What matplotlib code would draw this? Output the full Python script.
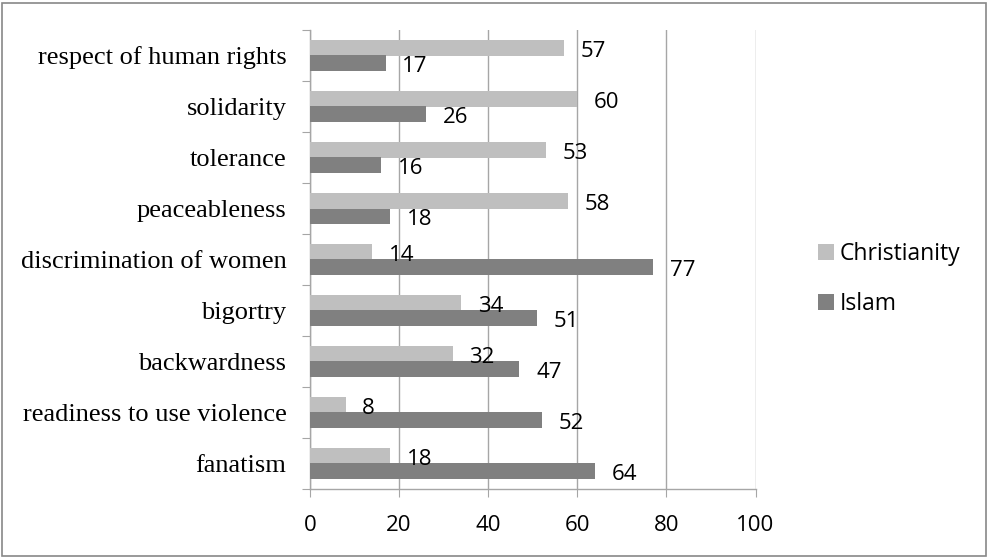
import matplotlib
matplotlib.use("Agg")
import matplotlib.pyplot as plt
from matplotlib.patches import Rectangle
import numpy as np

categories = ["fanatism", "readiness to use violence", "backwardness", "bigortry",
              "discrimination of women", "peaceableness", "tolerance", "solidarity",
              "respect of human rights"]
christianity = [18, 8, 32, 34, 14, 58, 53, 60, 57]
islam = [64, 52, 47, 51, 77, 18, 16, 26, 17]
xticks = [0, 20, 40, 60, 80, 100]

c_chr = "#BFBFBF"
c_isl = "#808080"
grid_c = "#A6A6A6"

fig = plt.figure(figsize=(9.88, 5.57), dpi=100)
ax = fig.add_axes([310/988, 1-489/557, 445.5/988, 459/557])

y = np.arange(len(categories))
h = 0.31
ax.barh(y + h/2, christianity, height=h, color=c_chr, label="Christianity", zorder=3)
ax.barh(y - h/2, islam, height=h, color=c_isl, label="Islam", zorder=3)

numfont = "Open Sans"
for yi, v in zip(y, christianity):
    ax.annotate(str(v), (v, yi + h/2), xytext=(12, -2.5), textcoords="offset points",
                ha="left", va="center", fontsize=16, family=numfont)
for yi, v in zip(y, islam):
    ax.annotate(str(v), (v, yi - h/2), xytext=(12, -2.5), textcoords="offset points",
                ha="left", va="center", fontsize=16, family=numfont)

ax.set_xlim(0, 100)
ax.set_ylim(-0.5, len(categories) - 0.5)
ax.set_xticks(xticks)
ax.set_xticklabels([str(t) for t in xticks], fontsize=16, family=numfont)
ax.set_yticks(np.arange(len(categories) + 1) - 0.5, minor=False)
ax.set_yticklabels([])
ax.set_yticks(y, minor=True)
ax.set_yticklabels(categories, minor=True, fontsize=19, family="Liberation Serif")
ax.tick_params(axis="y", which="minor", length=0, pad=17)
ax.tick_params(axis="y", which="major", length=6, color=grid_c, direction="out")
ax.tick_params(axis="x", length=6, color=grid_c, direction="out", pad=13)

ax.grid(axis="x", color=grid_c, linewidth=1, zorder=0)
for s in ["top", "right"]:
    ax.spines[s].set_visible(False)
for s in ["left", "bottom"]:
    ax.spines[s].set_color(grid_c)
    ax.spines[s].set_linewidth(1)

leg = fig.legend(loc="center left", bbox_to_anchor=(818/988, 1-279/557), frameon=False,
                 prop={"family": numfont, "size": 16.5}, handlelength=0.7, handleheight=0.7,
                 handletextpad=0.25, labelspacing=1.15, borderpad=0, borderaxespad=0)

fig.patches.append(Rectangle((1.5/988, 1.5/557), 984/988, 553/557, transform=fig.transFigure,
                             fill=False, edgecolor="#888888", linewidth=1.2))

fig.savefig("out.png", dpi=100)
